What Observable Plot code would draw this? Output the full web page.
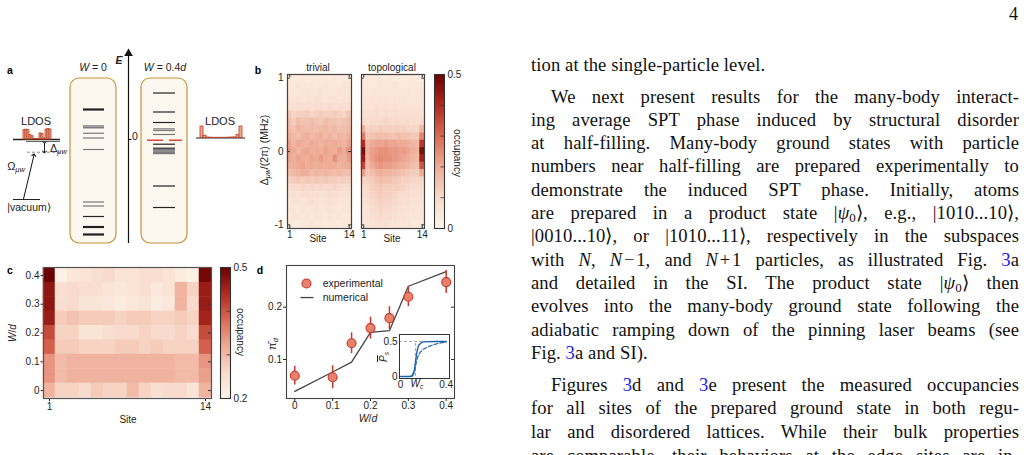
<!DOCTYPE html>
<html><head><meta charset="utf-8">
<script src="https://cdn.jsdelivr.net/npm/d3@7"></script>
<script src="https://cdn.jsdelivr.net/npm/@observablehq/plot@0.6"></script>
<style>
html,body{margin:0;padding:0;background:#fff;}
#page{position:relative;width:1024px;height:455px;overflow:hidden;background:#fff;}
.lbl{position:absolute;font-family:"Liberation Sans",Arial,sans-serif;font-size:10px;color:#222;white-space:nowrap;line-height:1;}
.lbl sub{font-size:0.68em;vertical-align:-0.3em;line-height:0;}
.bold{font-weight:bold;font-size:10.5px;color:#000;}
.ln{position:absolute;left:531px;width:488px;height:24px;line-height:24px;font-family:"Liberation Serif","Times New Roman",serif;font-size:18.6px;letter-spacing:0.1px;color:#111;text-align:left;white-space:nowrap;overflow:visible;}
.ln.ind{padding-left:20px;width:468px;}
.ln sub{font-size:0.7em;vertical-align:-0.25em;line-height:0;}
.ref{color:#2020f0;}
#pnum{position:absolute;right:6px;top:4px;font-family:"Liberation Serif",serif;font-size:18px;color:#111;}
</style></head>
<body><div id="page">
<div id="pnum">4</div>
<div class="ln last" style="top:53px">tion at the single-particle level.</div>
<div class="ln ind" style="top:84.5px">We next present results for the many-body interact-</div>
<div class="ln" style="top:107.8px">ing average SPT phase induced by structural disorder</div>
<div class="ln" style="top:131.1px">at half-filling. Many-body ground states with particle</div>
<div class="ln" style="top:154.4px">numbers near half-filling are prepared experimentally to</div>
<div class="ln" style="top:177.7px">demonstrate the induced SPT phase. Initially, atoms</div>
<div class="ln" style="top:201px">are prepared in a product state |<i>ψ</i><sub>0</sub>&#x27E9;, e.g., |1010...10&#x27E9;,</div>
<div class="ln" style="top:224.3px">|0010...10&#x27E9;, or |1010...11&#x27E9;, respectively in the subspaces</div>
<div class="ln" style="top:247.6px">with <i>N</i>, <i>N</i>&#8202;&#8722;&#8202;1, and <i>N</i>&#8202;+&#8202;1 particles, as illustrated Fig. <span class="ref">3</span>a</div>
<div class="ln" style="top:270.9px">and detailed in the SI. The product state |<i>ψ</i><sub>0</sub>&#x27E9; then</div>
<div class="ln" style="top:294.2px">evolves into the many-body ground state following the</div>
<div class="ln" style="top:317.5px">adiabatic ramping down of the pinning laser beams (see</div>
<div class="ln last" style="top:340.8px">Fig. <span class="ref">3</span>a and SI).</div>
<div class="ln ind" style="top:373px">Figures <span class="ref">3</span>d and <span class="ref">3</span>e present the measured occupancies</div>
<div class="ln" style="top:396.3px">for all sites of the prepared ground state in both regu-</div>
<div class="ln" style="top:419.6px">lar and disordered lattices. While their bulk properties</div>
<div class="ln" style="top:443.5px">are comparable, their behaviors at the edge sites are in-</div>
</div>
<script>
// ================= DATA =================
const sites = [1,2,3,4,5,6,7,8,9,10,11,12,13,14];
const detuning = [1.0,0.9,0.8,0.7,0.6,0.5,0.4,0.3,0.2,0.1,0,-0.1,-0.2,-0.3,-0.4,-0.5,-0.6,-0.7,-0.8,-0.9,-1.0];
// occupancy x100, rows follow `detuning`, columns follow `sites`
const occTrivial = [
 [5,4,4,5,4,5,4,5,5,4,5,4,4,5],
 [5,5,6,5,5,6,5,5,6,5,5,5,6,6],
 [6,6,5,6,7,6,6,7,6,6,6,7,6,6],
 [7,6,7,6,7,7,8,7,6,7,7,6,7,7],
 [9,8,9,8,9,8,9,9,8,9,8,9,8,9],
 [14,11,12,12,13,11,12,13,12,12,13,12,11,14],
 [16,13,16,15,15,16,15,14,16,15,15,14,15,16],
 [17,15,18,17,16,17,16,17,18,16,17,15,16,17],
 [19,17,16,18,19,17,18,19,17,18,16,18,17,19],
 [21,18,20,19,18,20,19,18,20,19,20,19,18,21],
 [22,20,18,20,21,19,20,19,21,20,19,22,20,24],
 [21,19,21,20,19,21,20,22,20,19,24,20,19,22],
 [19,19,20,21,19,20,19,20,19,20,19,18,19,20],
 [16,17,18,19,19,17,18,17,18,17,16,17,16,16],
 [12,13,14,13,14,13,14,13,14,13,13,12,13,12],
 [9,10,10,11,10,11,10,11,10,10,11,10,9,9],
 [7,8,7,8,9,8,8,7,8,9,8,7,7,7],
 [6,7,7,6,7,8,7,6,7,8,7,6,6,6],
 [6,6,5,7,6,6,7,6,6,7,6,5,6,6],
 [5,6,6,5,6,5,6,6,5,6,5,6,5,5],
 [5,5,4,5,5,6,5,5,4,5,5,4,5,5]
];
const occTopological = [
 [4,4,4,5,5,4,5,4,5,4,4,5,4,4],
 [5,5,5,5,6,5,5,6,5,5,5,5,5,5],
 [6,5,6,6,6,6,6,6,6,6,6,5,6,6],
 [6,6,7,6,7,7,6,7,6,7,6,6,6,6],
 [7,7,7,8,7,8,7,8,7,7,7,7,7,7],
 [8,8,8,9,8,9,8,9,8,8,8,8,8,8],
 [10,9,10,10,10,11,10,10,10,9,10,9,9,10],
 [19,11,12,12,13,12,12,12,12,12,11,11,11,18],
 [27,14,15,16,16,16,15,15,16,15,15,14,14,26],
 [40,18,20,21,21,22,21,21,20,20,19,18,17,38],
 [48,19,22,23,24,24,23,23,22,22,21,19,18,47],
 [44,18,22,24,25,24,24,23,22,21,20,18,17,42],
 [36,16,20,22,23,22,22,21,20,19,18,16,15,33],
 [22,14,16,18,19,18,18,17,16,15,14,13,13,20],
 [12,12,13,15,16,15,15,14,13,12,12,11,11,11],
 [9,10,12,13,14,13,13,12,12,11,10,9,9,9],
 [8,9,11,12,13,12,12,11,10,9,9,8,8,8],
 [7,8,10,11,12,11,11,10,9,8,8,7,7,7],
 [6,7,9,10,11,10,10,9,8,7,7,7,6,6],
 [6,7,8,9,10,9,9,8,7,7,6,6,6,6],
 [5,6,7,8,8,8,7,7,6,6,6,5,5,5]
];
const disorderW = [0.4,0.35,0.3,0.25,0.2,0.15,0.1,0.05,0];
const occDisorder = [
 [50,21,23,24,25,26,24,24,25,25,24,22,21,49],
 [47,25,26,25,25,24,23,24,25,23,24,31,27,46],
 [47,25,26,24,24,23,22,23,24,22,23,31,26,46],
 [46,28,29,28,28,28,27,28,28,27,27,28,27,45],
 [41,27,27,24,24,25,26,26,27,26,26,27,26,41],
 [39,28,28,27,27,27,28,28,27,28,27,27,27,39],
 [34,30,31,31,31,31,31,31,31,31,31,30,30,34],
 [34,30,31,31,31,31,31,31,31,31,31,30,30,33],
 [31,27,27,26,28,27,27,30,27,25,26,26,24,31]
];
const wExp = [0,0.1,0.15,0.2,0.25,0.3,0.4];
const piExp = [0.069,0.066,0.131,0.160,0.179,0.220,0.248];
const piErr = [0.018,0.022,0.020,0.021,0.022,0.019,0.022];
const wNum = [0,0.1,0.15,0.2,0.25,0.3,0.4];
const piNum = [0.039,0.076,0.095,0.152,0.155,0.240,0.268];
const insetWc = 0.13;
const psSolidW = [0,0.08,0.1,0.12,0.13,0.14,0.15,0.16,0.18,0.2,0.3,0.4];
const psSolid  = [0,0,0.01,0.08,0.2,0.32,0.4,0.45,0.48,0.495,0.5,0.5];
const psDashW  = [0.1,0.12,0.13,0.14,0.15,0.17,0.2,0.25,0.3,0.35,0.4];
const psDash   = [0,0.05,0.14,0.22,0.28,0.34,0.39,0.43,0.46,0.48,0.49];
// panel a: single-particle spectra (energies), kind, stroke width
const levelsW0 = [[0.60,"d",2.2],[0.27,"g",1.4],[0.235,"g",1.4],[0.125,"g",1.2],[0.03,"g",1.2],[-0.20,"g",1.2],[-1.25,"g",1.2],[-1.33,"g",1.2],[-1.54,"d",1.2],[-1.75,"d",2.2],[-1.90,"d",2.2]];
const levelsW04 = [[0.93,"d",1.2],[0.55,"d",1.2],[0.34,"d",1.2],[0.213,"g",1.2],[0.18,"g",1.2],[0.10,"g",1.2],[-0.094,"d",1.2],[-0.174,"d",1.2],[-0.205,"g",1.4],[-0.23,"g",1.4],[-0.255,"g",1.4],[-0.28,"g",1.4],[-0.93,"d",1.2],[-1.36,"d",1.2]];
const edgeLevel = -0.015;
const ldosW0  = [0.85,0.9,0.85,0.4,0.3,0.05,0.05,0.05,0.55,0.5,0.1,0.9,0.95,0.9];
const ldosW04 = [1.0,0.2,0.04,0.03,0.02,0.02,0.02,0.02,0.02,0.03,0.04,0.05,0.25,1.0];

// ================= TEXT JUSTIFICATION =================
document.querySelectorAll(".ln").forEach(el => {
  const span = document.createElement("span");
  span.innerHTML = el.innerHTML; el.innerHTML = ""; el.appendChild(span);
  if (el.classList.contains("last")) return;
  const avail = el.classList.contains("ind") ? 468 : 488;
  const nat = span.getBoundingClientRect().width;
  const nsp = (span.textContent.match(/ /g) || []).length;
  if (nsp > 0) span.style.wordSpacing = ((avail - nat) / nsp) + "px";
});

// ================= HELPERS =================
const page = document.getElementById("page");
const FONT = "Liberation Sans, Arial, sans-serif";
const heat = d3.piecewise(d3.interpolateRgb, ["#fdf5ea","#f8dbcc","#eeab96","#da6a54","#b02b22","#6b0000"]);
const fmt0 = d => d === 0 ? "0" : String(d);
function plotAt(opts, x0, y0, x1, y1, m) {
  const svg = Plot.plot(Object.assign({}, opts, {
    width: x1 - x0 + m.l + m.r, height: y1 - y0 + m.t + m.b,
    marginLeft: m.l, marginRight: m.r, marginTop: m.t, marginBottom: m.b,
    style: {background: "transparent", fontFamily: FONT, fontSize: "10px", color: "#222", overflow: "visible"}
  }));
  svg.style.position = "absolute";
  svg.style.left = (x0 - m.l) + "px";
  svg.style.top = (y0 - m.t) + "px";
  page.appendChild(svg);
  return svg;
}
function lbl(html, x, y, o = {}) {
  const d = document.createElement("div");
  d.className = "lbl" + (o.cls ? " " + o.cls : "");
  d.innerHTML = html;
  d.style.left = x + "px"; d.style.top = y + "px";
  const ax = o.anchor === "start" ? "0%" : o.anchor === "end" ? "-100%" : "-50%";
  d.style.transform = `translate(${ax},-50%)` + (o.rot ? ` rotate(${o.rot}deg)` : "");
  if (o.size) d.style.fontSize = o.size + "px";
  page.appendChild(d);
}
const cellsOf = (mat, rows) => rows.flatMap((r, i) => sites.map((s, j) => ({site: s, row: r, v: mat[i][j] / 100})));

// ================= PANEL a =================
const lv = arr => arr.map(([e, k, w]) => ({e, k, w}));
const boxes = [{x1: 70, x2: 116, e1: -2.08, e2: 1.22}, {x1: 141, x2: 187, e1: -2.08, e2: 1.22}];
plotAt({
  x: {domain: [0, 250], axis: null},
  y: {domain: [-2.22, 1.98], axis: null},
  marks: [
    Plot.rect(boxes, {x1: "x1", x2: "x2", y1: "e1", y2: "e2", rx: 9, fill: "#fdf8ef", stroke: "#c8923c", strokeWidth: 1.2}),
    Plot.ruleY(lv(levelsW0).filter(d => d.k === "g"), {y: "e", x1: 83, x2: 104, stroke: "#777", strokeWidth: "w"}),
    Plot.ruleY(lv(levelsW0).filter(d => d.k === "d"), {y: "e", x1: 83, x2: 104, stroke: "#222", strokeWidth: "w"}),
    Plot.ruleY(lv(levelsW04).filter(d => d.k === "g"), {y: "e", x1: 153, x2: 175, stroke: "#777", strokeWidth: "w"}),
    Plot.ruleY(lv(levelsW04).filter(d => d.k === "d"), {y: "e", x1: 153, x2: 175, stroke: "#222", strokeWidth: "w"}),
    Plot.ruleY([edgeLevel], {x1: 147, x2: 182, stroke: "#e0443a", strokeWidth: 1.4, strokeDasharray: "16,6"}),
    Plot.ruleX([128], {y1: -2.08, y2: 1.68, stroke: "#111", strokeWidth: 1.2}),
    Plot.dot([{x: 128, e: 1.72}], {x: "x", y: "e", symbol: "triangle", r: 3.2, fill: "#111"}),
    Plot.ruleY([0], {x1: 128, x2: 131.5, stroke: "#111"}),
    Plot.ruleY([0], {x1: 13, x2: 60, stroke: "#222", strokeWidth: 1.4}),
    Plot.ruleY([-0.04], {x1: 26, x2: 60, stroke: "#555", strokeWidth: 0.9}),
    Plot.ruleY([-0.254], {x1: 27, x2: 60, stroke: "#888", strokeDasharray: "3,2"}),
    Plot.link([{x: 44, e1: -0.06, e2: -0.25}], {x1: "x", x2: "x", y1: "e1", y2: "e2", stroke: "#222", markerStart: "arrow", markerEnd: "arrow"}),
    Plot.link([{xa: 23, xb: 33.5, e1: -1.19, e2: -0.31}], {x1: "xa", x2: "xb", y1: "e1", y2: "e2", stroke: "#111", markerEnd: "arrow"}),
    Plot.ruleY([-1.2], {x1: 13, x2: 40, stroke: "#222"}),
    Plot.ruleY([0.03], {x1: 196, x2: 245, stroke: "#222", strokeWidth: 1.2})
  ]
}, 0, 40, 250, 250, {l: 0, t: 0, r: 0, b: 0});

const ldosOpts = vals => ({
  x: {type: "band", domain: sites, padding: 0.12, axis: null},
  y: {domain: [0, 1], axis: null},
  marks: [Plot.barY(sites.map((s, i) => ({s, v: vals[i]})), {x: "s", y: "v", fill: "#f4a88e", stroke: "#b33c22", strokeWidth: 0.8})]
});
plotAt(ldosOpts(ldosW0), 20, 128, 53, 139, {l: 0, t: 0, r: 0, b: 0});
plotAt(ldosOpts(ldosW04), 197, 126, 244, 137.5, {l: 0, t: 0, r: 0, b: 0});

lbl("a", 10, 70, {cls: "bold"});
lbl("<i>W</i> = 0", 93, 67, {size: 10.5});
lbl("<i>W</i> = 0.4<i>d</i>", 165, 67, {size: 10.5});
lbl("<i><b>E</b></i>", 119, 60, {size: 10.5});
lbl("0", 135, 136, {size: 10.5});
lbl("LDOS", 36, 121, {size: 11});
lbl("LDOS", 220, 121, {size: 11});
lbl("&Delta;<sub><i>&mu;w</i></sub>", 50, 148, {anchor: "start", size: 11});
lbl("&Omega;<sub><i>&mu;w</i></sub>", 16, 166, {size: 11});
lbl("|vacuum&#x27E9;", 29, 207, {size: 10.5});

// ================= PANEL b =================
const bTicks = [
  Plot.ruleX([1, 14], {x: d => d, y1: -1.05, y2: -1.005, stroke: "#333"}),
  Plot.ruleX([1, 14], {x: d => d, y1: 1.05, y2: 1.005, stroke: "#333"}),
  Plot.ruleY([-1, 0, 1], {y: d => d, x1: 0.5, x2: 1.1, stroke: "#333"}),
  Plot.ruleY([-1, 0, 1], {y: d => d, x1: 14.5, x2: 13.9, stroke: "#333"})
];
function heatB(mat, x0, x1, showY) {
  plotAt({
    x: {domain: [0.5, 14.5], ticks: [1, 14], tickSize: 0, tickPadding: 2.5, label: null},
    y: showY ? {domain: [-1.05, 1.05], ticks: [-1, 0, 1], tickFormat: d => String(d), tickSize: 0, tickPadding: 4, label: null}
             : {domain: [-1.05, 1.05], axis: null},
    color: {type: "linear", domain: [0, 0.5], interpolate: heat, clamp: true},
    marks: [
      Plot.rect(cellsOf(mat, detuning), {x1: d => d.site - 0.5, x2: d => d.site + 0.5, y1: d => d.row - 0.05, y2: d => d.row + 0.05, fill: "v", inset: -0.25}),
      ...bTicks,
      Plot.frame({stroke: "#444", strokeWidth: 1.2})
    ]
  }, x0, 74, x1, 228, {l: 20, t: 4, r: 2, b: 14});
}
heatB(occTrivial, 287, 351, true);
heatB(occTopological, 361, 424, false);

function colorbar(x0, y0, x1, y1, dom, ticks, minor, fmt) {
  plotAt({
    x: {domain: [0, 1], axis: null},
    y: {domain: dom, ticks, tickFormat: fmt, tickSize: 0, tickPadding: 3, axis: "right", label: null},
    color: {type: "linear", domain: dom, interpolate: heat, clamp: true},
    marks: [
      Plot.raster({x1: 0, x2: 1, y1: dom[0], y2: dom[1], width: 1, height: 200, fill: (x, y) => y}),
      Plot.ruleY(minor, {y: d => d, x1: 0.65, x2: 1, stroke: "#333", strokeWidth: 0.8}),
      Plot.frame({stroke: "#333", strokeWidth: 1.1})
    ]
  }, x0, y0, x1, y1, {l: 0, t: 4, r: 22, b: 4});
}
colorbar(434, 74, 444, 228, [0, 0.5], [0, 0.5], [0.1, 0.2, 0.3, 0.4], fmt0);

lbl("b", 258, 70, {cls: "bold"});
lbl("trivial", 318, 68);
lbl("topological", 392, 68);
lbl("&Delta;<sub><i>&mu;w</i></sub>/(2&pi;) (MHz)", 264, 150, {rot: -90, size: 10.5});
lbl("Site", 318, 239);
lbl("Site", 392, 239);
lbl("occupancy", 457, 153, {rot: 90});

// ================= PANEL c =================
plotAt({
  x: {domain: [0.5, 14.5], ticks: [1, 14], tickSize: 3, tickPadding: 1.5, label: null},
  y: {domain: [-0.0275, 0.4275], ticks: [0, 0.1, 0.2, 0.3, 0.4], tickFormat: fmt0, tickSize: 2.5, tickPadding: 1.5, label: null},
  color: {type: "linear", domain: [0.2, 0.5], interpolate: heat, clamp: true},
  marks: [
    Plot.rect(cellsOf(occDisorder, disorderW), {x1: d => d.site - 0.5, x2: d => d.site + 0.5, y1: d => d.row - 0.025, y2: d => d.row + 0.025, fill: "v", inset: -0.25}),
    Plot.ruleY([0, 0.1, 0.2, 0.3, 0.4], {y: d => d, x1: 14.5, x2: 14.25, stroke: "#333"}),
    Plot.frame({stroke: "#555", strokeWidth: 1.2})
  ]
}, 43, 267, 211, 398, {l: 28, t: 4, r: 2, b: 16});
colorbar(220, 267, 230, 398, [0.2, 0.5], [0.2, 0.5], [0.3, 0.4], d => d.toFixed(1));

lbl("c", 10, 270, {cls: "bold"});
lbl("<i>W</i>/<i>d</i>", 13, 333, {rot: -90});
lbl("Site", 128, 420);
lbl("occupancy", 240, 332, {rot: 90});

// ================= PANEL d =================
const dX = [-0.0219, 0.4219], dY = [0.0254, 0.2797];
const fx = f => dX[0] + f * (dX[1] - dX[0]);
const fy = f => dY[0] + f * (dY[1] - dY[0]);
const expData = wExp.map((w, i) => ({w, v: piExp[i], lo: piExp[i] - piErr[i], hi: piExp[i] + piErr[i]}));
const numData = wNum.map((w, i) => ({w, v: piNum[i]}));
const legDot = [{w: fx(0.119), v: fy(0.865), lo: fy(0.835), hi: fy(0.895)}];
const legLine = [{w1: fx(0.083), w2: fx(0.161), v: fy(0.759)}];
plotAt({
  x: {domain: dX, ticks: [0, 0.1, 0.2, 0.3, 0.4], tickFormat: fmt0, tickSize: 3, tickPadding: 0.5, label: null},
  y: {domain: dY, ticks: [0.1, 0.2], tickFormat: d => d.toFixed(1), tickSize: 3, tickPadding: 1.5, label: null},
  marks: [
    Plot.ruleY([0.1, 0.2], {y: d => d, x1: dX[1], x2: dX[1] - 0.008, stroke: "#333"}),
    Plot.line(numData, {x: "w", y: "v", stroke: "#444", strokeWidth: 1.3}),
    Plot.ruleX(expData, {x: "w", y1: "lo", y2: "hi", stroke: "#c9372c", strokeWidth: 1.5}),
    Plot.dot(expData, {x: "w", y: "v", r: 4.5, fill: "#e9806c", stroke: "#c0392b", strokeWidth: 1.1}),
    Plot.ruleX(legDot, {x: "w", y1: "lo", y2: "hi", stroke: "#c9372c", strokeWidth: 1.5}),
    Plot.dot(legDot, {x: "w", y: "v", r: 4.5, fill: "#e9806c", stroke: "#c0392b", strokeWidth: 1.1}),
    Plot.link(legLine, {x1: "w1", x2: "w2", y1: "v", y2: "v", stroke: "#444", strokeWidth: 1.3}),
    Plot.frame({stroke: "#444", strokeWidth: 1.1})
  ]
}, 286, 265, 454, 398, {l: 20, t: 4, r: 4, b: 12});
lbl("experimental", 322.7, 283, {anchor: "start", size: 10.5});
lbl("numerical", 322.7, 297, {anchor: "start", size: 10.5});

plotAt({
  x: {domain: [-0.01, 0.43], ticks: [0, 0.4], tickFormat: fmt0, tickSize: 0, tickPadding: 2, label: null},
  y: {domain: [-0.029, 0.6], ticks: [0, 0.5], tickFormat: fmt0, tickSize: 0, tickPadding: 2, label: null},
  marks: [
    Plot.frame({fill: "white"}),
    Plot.ruleY([0.5], {y: d => d, stroke: "#aaa", strokeDasharray: "3,2"}),
    Plot.ruleX([insetWc], {x: d => d, y1: 0, y2: 0.5, stroke: "#aaa", strokeDasharray: "3,2"}),
    Plot.line(psDashW.map((w, i) => ({w, p: psDash[i]})), {x: "w", y: "p", stroke: "#1f64b0", strokeWidth: 1.2, strokeDasharray: "4,2"}),
    Plot.line(psSolidW.map((w, i) => ({w, p: psSolid[i]})), {x: "w", y: "p", stroke: "#1f64b0", strokeWidth: 1.4}),
    Plot.frame({stroke: "#333", strokeWidth: 1})
  ]
}, 399, 334, 449, 378, {l: 14, t: 2, r: 2, b: 11});

lbl("d", 260, 270, {cls: "bold"});
lbl("&pi;&#x0304;<sub><i>d</i></sub>", 272, 344, {rot: -90, size: 11});
lbl("<i>W</i>/<i>d</i>", 368, 417.5, {size: 10.5});
lbl("<span style='text-decoration:overline'><i>P</i></span><sub><i>s</i></sub>", 384, 357, {rot: -90, size: 10});
lbl("<i>W</i><sub><i>c</i></sub>", 417, 384, {size: 10});
</script>
</body></html>
